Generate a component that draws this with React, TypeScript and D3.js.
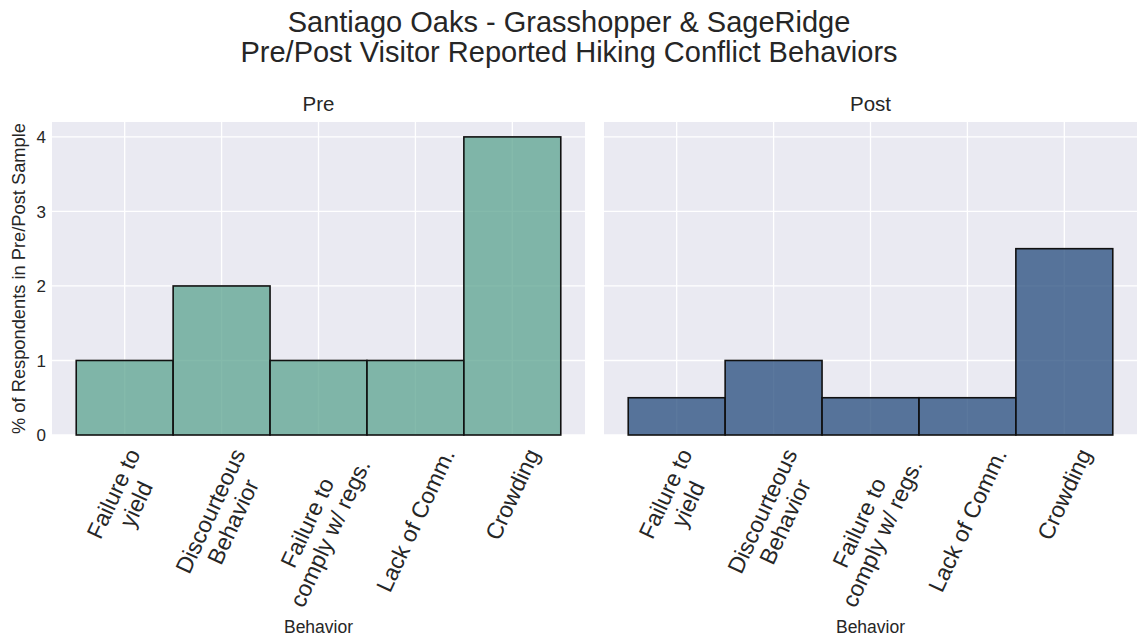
import { useEffect, useRef } from 'react';
import * as d3 from 'd3';

const behaviors = [
  'Failure to\nyield',
  'Discourteous\nBehavior',
  'Failure to\ncomply w/ regs.',
  'Lack of Comm.',
  'Crowding',
];
const preValues = [1, 2, 1, 1, 4];
const postValues = [0.5, 1, 0.5, 0.5, 2.5];
const yTicks = [0, 1, 2, 3, 4];
const panelTitles = ['Pre', 'Post'];
const panelColors = ['rgb(91,163,143)', 'rgb(36,75,124)'];

const W = 1138;
const H = 639;
const FONT = '"Liberation Sans", Arial, sans-serif';

export default function App() {
  const ref = useRef<SVGSVGElement | null>(null);

  useEffect(() => {
    const svg = d3.select(ref.current);
    svg.selectAll('*').remove();

    const top = 122;
    const bottom = 435;
    const panels = [
      { x0: 52, x1: 585, values: preValues },
      { x0: 604, x1: 1137, values: postValues },
    ];

    const y = d3.scaleLinear().domain([0, 4.2]).range([bottom, top]);

    // Titulo
    svg.append('text')
      .attr('x', W / 2)
      .attr('y', 32)
      .attr('text-anchor', 'middle')
      .attr('font-family', FONT)
      .attr('font-size', 29)
      .attr('fill', '#262626')
      .text('Santiago Oaks - Grasshopper & SageRidge');
    svg.append('text')
      .attr('x', W / 2)
      .attr('y', 62)
      .attr('text-anchor', 'middle')
      .attr('font-family', FONT)
      .attr('font-size', 29)
      .attr('fill', '#262626')
      .text('Pre/Post Visitor Reported Hiking Conflict Behaviors');

    panels.forEach((p, pi) => {
      const x = d3.scaleLinear().domain([-0.75, 4.75]).range([p.x0, p.x1]);
      const g = svg.append('g');

      g.append('rect')
        .attr('x', p.x0)
        .attr('y', top)
        .attr('width', p.x1 - p.x0)
        .attr('height', bottom - top)
        .attr('fill', '#eaeaf2');

      // Grid
      g.selectAll('.hg')
        .data(yTicks)
        .enter().append('line')
        .attr('x1', p.x0).attr('x2', p.x1)
        .attr('y1', d => y(d)).attr('y2', d => y(d))
        .attr('stroke', '#fff').attr('stroke-width', 1.3);
      g.selectAll('.vg')
        .data(behaviors.map((_, i) => i))
        .enter().append('line')
        .attr('x1', d => x(d)).attr('x2', d => x(d))
        .attr('y1', top).attr('y2', bottom)
        .attr('stroke', '#fff').attr('stroke-width', 1.3);

      // Barras
      g.selectAll('.bar')
        .data(p.values)
        .enter().append('rect')
        .attr('x', (_, i) => x(i - 0.5))
        .attr('width', x(0.5) - x(-0.5))
        .attr('y', d => y(d))
        .attr('height', d => y(0) - y(d))
        .attr('fill', panelColors[pi])
        .attr('fill-opacity', 0.75)
        .attr('stroke', '#111')
        .attr('stroke-width', 1.6);

      // Titulo del panel
      svg.append('text')
        .attr('x', (p.x0 + p.x1) / 2)
        .attr('y', 111)
        .attr('text-anchor', 'middle')
        .attr('font-family', FONT)
        .attr('font-size', 20.5)
        .attr('fill', '#262626')
        .text(panelTitles[pi]);

      // Etiquetas eje x
      const angle = 65;
      const rad = (angle * Math.PI) / 180;
      behaviors.forEach((label, i) => {
        const outer = svg.append('g');
        const inner = outer.append('g');
        const lines = label.split('\n');
        const lh = 25;
        lines.forEach((ln, li) => {
          inner.append('text')
            .attr('x', 0)
            .attr('y', (li - (lines.length - 1) / 2) * lh)
            .attr('dy', '0.35em')
            .attr('text-anchor', 'middle')
            .attr('font-family', FONT)
            .attr('font-size', 23)
            .attr('fill', '#262626')
            .text(ln);
        });
        const bb = (inner.node() as SVGGElement).getBBox();
        const bw = bb.width;
        const bh = lines.length * lh;
        const rh = bw * Math.sin(rad) + bh * Math.cos(rad);
        inner.attr('transform', `rotate(${-angle})`);
        outer.attr('transform', `translate(${x(i)},${445 + rh / 2})`);
      });

      svg.append('text')
        .attr('x', (p.x0 + p.x1) / 2)
        .attr('y', 633)
        .attr('text-anchor', 'middle')
        .attr('font-family', FONT)
        .attr('font-size', 17.5)
        .attr('fill', '#262626')
        .text('Behavior');

      if (pi === 0) {
        svg.selectAll('.yt')
          .data(yTicks)
          .enter().append('text')
          .attr('x', 46)
          .attr('y', d => y(d))
          .attr('dy', '0.36em')
          .attr('text-anchor', 'end')
          .attr('font-family', FONT)
          .attr('font-size', 17)
          .attr('fill', '#262626')
          .text(d => d);
        svg.append('text')
          .attr('transform', `translate(24.5,${(top + bottom) / 2}) rotate(-90)`)
          .attr('text-anchor', 'middle')
          .attr('font-family', FONT)
          .attr('font-size', 18.3)
          .attr('fill', '#262626')
          .text('% of Respondents in Pre/Post Sample');
      }
    });
  }, []);

  return (
    <svg
      ref={ref}
      width={W}
      height={H}
      style={{ position: 'absolute', left: 0, top: 0, background: '#fff' }}
    />
  );
}
